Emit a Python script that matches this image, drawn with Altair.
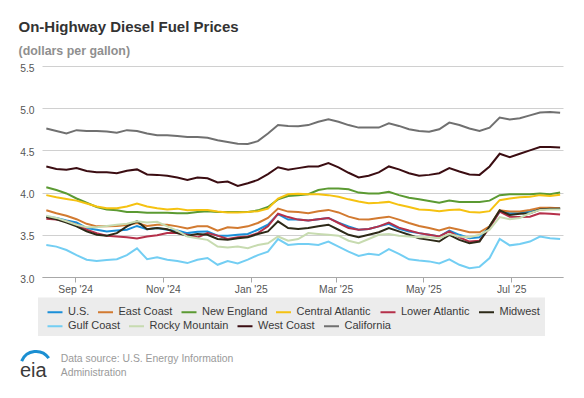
import altair as alt
import pandas as pd

# ---------------- data ----------------
start_date = "2024-08-12"   # first weekly observation (Mondays)
n_weeks = 52

series_names = ["U.S.", "East Coast", "New England", "Central Atlantic", "Lower Atlantic",
                "Midwest", "Gulf Coast", "Rocky Mountain", "West Coast", "California"]
series_colors = ["#1a8fd8", "#d27a30", "#5b9a32", "#f5c211", "#b5304a",
                 "#2d2a18", "#73cef3", "#c7dbb0", "#3b0d12", "#707070"]

us = [3.715, 3.70, 3.67, 3.645, 3.58, 3.56, 3.54, 3.55, 3.56, 3.605,
      3.565, 3.58, 3.56, 3.55, 3.52, 3.535, 3.54, 3.49, 3.49, 3.50,
      3.51, 3.56, 3.62, 3.745, 3.68, 3.68, 3.67, 3.685, 3.70, 3.645,
      3.60, 3.56, 3.57, 3.60, 3.63, 3.57, 3.54, 3.52, 3.50, 3.48,
      3.55, 3.50, 3.46, 3.47, 3.60, 3.775, 3.755, 3.755, 3.775, 3.815,
      3.815, 3.815]
east_coast = [3.79, 3.755, 3.725, 3.685, 3.63, 3.60, 3.60, 3.605, 3.615, 3.64,
              3.605, 3.62, 3.62, 3.60, 3.575, 3.60, 3.60, 3.55, 3.59, 3.58,
              3.60, 3.64, 3.70, 3.81, 3.775, 3.77, 3.755, 3.78, 3.795, 3.765,
              3.715, 3.685, 3.68, 3.70, 3.715, 3.68, 3.64, 3.605, 3.58, 3.55,
              3.585, 3.56, 3.53, 3.53, 3.60, 3.79, 3.775, 3.775, 3.795, 3.82,
              3.82, 3.815]
new_england = [4.063, 4.03, 3.99, 3.93, 3.88, 3.83, 3.80, 3.79, 3.77, 3.77,
               3.76, 3.76, 3.76, 3.755, 3.755, 3.77, 3.78, 3.77, 3.77, 3.77,
               3.77, 3.79, 3.83, 3.92, 3.96, 3.97, 3.98, 4.03, 4.05, 4.05,
               4.04, 4.00, 3.99, 3.99, 4.01, 3.97, 3.94, 3.92, 3.90, 3.88,
               3.905, 3.89, 3.89, 3.89, 3.905, 3.97, 3.98, 3.98, 3.98, 3.99,
               3.98, 4.00]
central_atlantic = [3.97, 3.945, 3.925, 3.905, 3.87, 3.835, 3.815, 3.815, 3.835, 3.87,
                    3.835, 3.815, 3.80, 3.81, 3.79, 3.795, 3.795, 3.775, 3.765, 3.765,
                    3.77, 3.78, 3.81, 3.93, 3.98, 3.985, 3.98, 3.98, 3.97, 3.95,
                    3.92, 3.895, 3.875, 3.88, 3.89, 3.855, 3.83, 3.80, 3.795, 3.78,
                    3.795, 3.80, 3.77, 3.765, 3.78, 3.91, 3.93, 3.945, 3.95, 3.97,
                    3.96, 3.975]
lower_atlantic = [3.69, 3.68, 3.66, 3.62, 3.56, 3.52, 3.49, 3.48, 3.47, 3.455,
                  3.48, 3.495, 3.52, 3.52, 3.50, 3.47, 3.52, 3.49, 3.45, 3.47,
                  3.48, 3.52, 3.60, 3.75, 3.71, 3.68, 3.67, 3.685, 3.70, 3.64,
                  3.58, 3.56, 3.57, 3.60, 3.645, 3.585, 3.55, 3.52, 3.50, 3.48,
                  3.54, 3.47, 3.42, 3.43, 3.58, 3.775, 3.715, 3.71, 3.715, 3.755,
                  3.75, 3.74]
midwest = [3.71, 3.685, 3.645, 3.60, 3.54, 3.50, 3.49, 3.52, 3.60, 3.66,
           3.565, 3.58, 3.565, 3.52, 3.49, 3.51, 3.50, 3.45, 3.44, 3.46,
           3.47, 3.51, 3.54, 3.66, 3.58, 3.57, 3.58, 3.60, 3.62, 3.56,
           3.50, 3.47, 3.50, 3.53, 3.58, 3.54, 3.50, 3.46, 3.44, 3.42,
           3.50, 3.44, 3.40, 3.42, 3.60, 3.79, 3.735, 3.75, 3.755, 3.80,
           3.81, 3.81]
gulf_coast = [3.38, 3.36, 3.32, 3.26, 3.205, 3.19, 3.20, 3.21, 3.26, 3.34,
              3.21, 3.235, 3.205, 3.19, 3.165, 3.205, 3.225, 3.145, 3.19, 3.16,
              3.205, 3.26, 3.30, 3.45, 3.38, 3.39, 3.39, 3.38, 3.42, 3.36,
              3.30, 3.25, 3.275, 3.26, 3.33, 3.275, 3.21, 3.195, 3.185, 3.16,
              3.21, 3.145, 3.105, 3.12, 3.225, 3.45, 3.375, 3.39, 3.42, 3.48,
              3.46, 3.45]
rocky_mountain = [3.725, 3.70, 3.66, 3.62, 3.59, 3.59, 3.605, 3.62, 3.63, 3.66,
                  3.645, 3.655, 3.60, 3.55, 3.48, 3.46, 3.44, 3.36, 3.35, 3.36,
                  3.34, 3.38, 3.40, 3.48, 3.43, 3.45, 3.52, 3.51, 3.50, 3.49,
                  3.43, 3.40, 3.45, 3.50, 3.51, 3.49, 3.48, 3.47, 3.47, 3.46,
                  3.51, 3.48, 3.47, 3.50, 3.56, 3.71, 3.685, 3.70, 3.755, 3.795,
                  3.80, 3.80]
west_coast = [4.31, 4.28, 4.27, 4.29, 4.255, 4.24, 4.24, 4.23, 4.26, 4.275,
              4.215, 4.21, 4.20, 4.18, 4.15, 4.18, 4.17, 4.12, 4.13, 4.08,
              4.11, 4.15, 4.22, 4.30, 4.27, 4.29, 4.31, 4.31, 4.35, 4.30,
              4.235, 4.18, 4.20, 4.24, 4.31, 4.275, 4.23, 4.20, 4.21, 4.23,
              4.29, 4.25, 4.215, 4.21, 4.31, 4.46, 4.42, 4.46, 4.50, 4.54,
              4.54, 4.535]
california = [4.76, 4.73, 4.70, 4.74, 4.73, 4.73, 4.725, 4.71, 4.74, 4.73,
              4.70, 4.68, 4.68, 4.67, 4.66, 4.66, 4.65, 4.62, 4.60, 4.58,
              4.575, 4.61, 4.70, 4.80, 4.79, 4.785, 4.80, 4.84, 4.87, 4.84,
              4.80, 4.77, 4.77, 4.77, 4.82, 4.79, 4.75, 4.73, 4.72, 4.75,
              4.83, 4.80, 4.76, 4.73, 4.77, 4.89, 4.865, 4.88, 4.915, 4.95,
              4.955, 4.945]

y_ticks = [3.0, 3.5, 4.0, 4.5, 5.0, 5.5]
x_tick_months = [(2024, 9), (2024, 11), (2025, 1), (2025, 3), (2025, 5), (2025, 7)]

title_text = "On-Highway Diesel Fuel Prices"
subtitle_text = "(dollars per gallon)"
source_lines = ["Data source: U.S. Energy Information", "Administration"]

# ---------------- table ----------------
all_series = [us, east_coast, new_england, central_atlantic, lower_atlantic,
              midwest, gulf_coast, rocky_mountain, west_coast, california]
dates = pd.date_range(start_date, periods=n_weeks, freq="7D").strftime("%Y-%m-%d")
rows = []
for k, (name, vals) in enumerate(zip(series_names, all_series)):
    for d, v in zip(dates, vals):
        rows.append({"date": d, "series": name, "price": v, "k": k})
df = pd.DataFrame(rows)
row1_names = series_names[:6]
row2_names = series_names[6:]
df1 = df[df["series"].isin(row1_names)]
df2 = df[df["series"].isin(row2_names)]

FONT = "Liberation Sans"

x_enc = alt.X(
    "date:T",
    scale=alt.Scale(type="utc",
                    domain=[alt.DateTime(year=2024, month=8, date=9, utc=True),
                            alt.DateTime(year=2025, month=8, date=6, utc=True)]),
    axis=alt.Axis(title=None,
                  values=[alt.DateTime(year=y, month=m, date=1, utc=True) for y, m in x_tick_months],
                  format="%b '%y", grid=False,
                  domainColor="#a8a8a8", domainWidth=1,
                  tickColor="#a8a8a8", tickSize=5, tickWidth=1,
                  labelFont=FONT, labelFontSize=10.3, labelColor="#555555",
                  labelPadding=2),
)
y_enc = alt.Y(
    "price:Q",
    scale=alt.Scale(domain=[3.0, 5.5], nice=False, zero=False),
    axis=alt.Axis(title=None, values=y_ticks, format=".1f",
                  domain=False, ticks=False,
                  gridColor="#d0d0d0", gridWidth=1,
                  labelFont=FONT, labelFontSize=10.3, labelColor="#555555",
                  labelPadding=8, labelOffset=2, labelBaseline="middle"),
)


def legend_row(ly):
    return alt.Legend(orient="none", legendX=4.5, legendY=ly,
                      direction="horizontal", columns=6,
                      symbolType="stroke", symbolSize=225, symbolStrokeWidth=2,
                      labelFont=FONT, labelFontSize=11, labelColor="#3a3a3a",
                      labelOffset=4.5, columnPadding=4.5, padding=0)


# grey legend background box
legend_box = alt.Chart(pd.DataFrame({"t": ["box"]})).mark_rect(
    color="#ececec"
).encode(x=alt.value(-4), x2=alt.value(503), y=alt.value(231.5), y2=alt.value(270))

lines1 = alt.Chart(df1).mark_line(strokeWidth=2).encode(
    x=x_enc, y=y_enc,
    color=alt.Color("series:N",
                    scale=alt.Scale(domain=row1_names, range=series_colors[:6]),
                    title=None, legend=legend_row(237.5)),
    order=alt.Order("k:Q"),
)
lines2 = alt.Chart(df2).mark_line(strokeWidth=2).encode(
    x=x_enc, y=y_enc,
    color=alt.Color("series:N",
                    scale=alt.Scale(domain=row2_names, range=series_colors[6:]),
                    title=None, legend=legend_row(251.5)),
    order=alt.Order("k:Q"),
)


def text_layer(s, x, y, size, color, weight="normal"):
    return alt.Chart(pd.DataFrame({"t": [s]})).mark_text(
        align="left", baseline="alphabetic", font=FONT, fontSize=size,
        color=color, fontWeight=weight,
    ).encode(text="t:N", x=alt.value(x), y=alt.value(y))


title_l = text_layer(title_text, -23.5, -34, 15, "#333333", "bold")
sub_l = text_layer(subtitle_text, -23.5, -11.5, 12.4, "#8f8f8f", "bold")
src1 = text_layer(source_lines[0], 18.7, 295.5, 10.4, "#9a9a9a")
src2 = text_layer(source_lines[1], 18.7, 309.5, 10.4, "#9a9a9a")
arc = alt.Chart(pd.DataFrame({"t": ["logo"]})).mark_arc(
    radius=17, radius2=14, theta=5.1, theta2=7.25, color="#1b8fd2"
).encode(x=alt.value(-6), y=alt.value(301))
eia = text_layer("eia", -22, 311, 20, "#3a3a3a")

chart = alt.layer(legend_box, lines1, lines2, title_l, sub_l, src1, src2, arc, eia).resolve_scale(
    color="independent"
).properties(
    width=521, height=211,
    padding={"left": 34, "top": 58, "right": 13, "bottom": 101},
    autosize=alt.AutoSizeParams(type="none"),
    background="white",
).configure_view(stroke="transparent")

chart.save("out.html", embed_options={"renderer": "svg", "actions": False})
